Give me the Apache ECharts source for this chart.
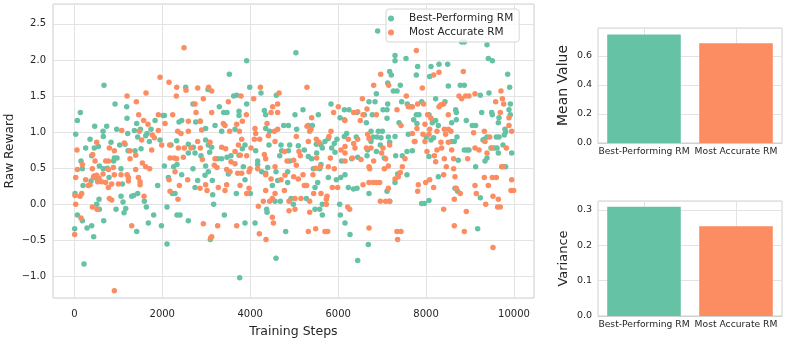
<!DOCTYPE html>
<html>
<head>
<meta charset="utf-8">
<script src="https://cdn.jsdelivr.net/npm/echarts@6/dist/echarts.min.js"></script>
<style>
  html, body { margin: 0; padding: 0; background: #fff; }
  #chart { width: 789px; height: 344px; }
</style>
</head>
<body>
<div id="chart"></div>
<script>
  // 散点数据 [step, reward]
  const bestRM = [
    [675,1.65],[137,1.27],[69,1.16],[31,0.97],[463,1.08],[736,1.08],[653,1.01],[660,0.94],[357,0.90],[834,0.86],[258,0.78],[455,0.78],[546,0.80],[395,0.67],[152,0.60],[183,0.49],[569,0.53],[660,0.49],[751,0.50],[895,0.60],[380,0.32],[198,0.26],[501,0.36],[789,0.37],[16,0.15],[562,0.07],[509,0.0],[569,-0.07],[69,-0.15],[183,-0.23],[289,-0.33],[395,-0.30],[8,-0.34],[440,-0.45],[668,-0.23],[220,-0.83],[910,0.64],
    [926,1.39],[1191,1.35],[1199,1.19],[964,1.04],[1214,0.98],[1366,1.02],[1419,1.12],[1502,1.04],[1654,0.98],[1745,1.04],[1836,1.16],[2018,1.23],[2048,1.23],[1032,0.82],[1153,0.83],[1381,0.74],[1517,0.77],[1441,0.93],[1623,0.95],[1707,0.87],[1949,0.89],[2199,0.82],[971,0.64],[1062,0.49],[1222,0.74],[1093,0.28],[2048,0.53],[2260,0.52],[1896,0.26],[2139,0.37],[1062,0.11],[1108,0.03],[1305,0.11],[1350,0.12],[1441,0.15],[949,-0.07],[1169,-0.06],[1131,-0.12],[1593,0.04],[1639,-0.04],[1805,-0.15],[1684,-0.26],[1980,-0.30],[1419,-0.38],[2108,-0.55],[2108,-0.04],[2230,0.15],
    [3526,1.80],[2533,1.62],[3040,1.59],[3624,1.50],[2699,1.39],[3298,1.35],[3397,1.27],[3472,1.27],[2442,1.16],[2381,1.14],[2760,1.14],[2859,1.15],[2987,1.05],[3200,1.09],[3351,1.01],[2328,0.88],[2593,0.83],[2707,0.79],[2987,0.89],[3048,0.82],[3124,0.79],[2593,0.71],[2745,0.71],[2881,0.67],[3078,0.72],[3260,0.63],[3351,0.63],[3563,0.67],[2335,0.55],[2442,0.41],[2699,0.49],[2987,0.53],[3048,0.45],[3503,0.42],[2972,0.40],[3139,0.33],[2745,0.23],[2805,0.33],[2290,0.15],[3147,0.13],[3169,0.0],[2335,-0.15],[2404,-0.15],[2593,-0.23],[3412,-0.15],[3093,-0.49],[3473,0.65],
    [5040,2.10],[3920,1.99],[3989,1.62],[3920,1.39],[3746,1.29],[3693,1.51],[4246,1.54],[4595,1.51],[4322,1.30],[4352,1.24],[3746,1.23],[4762,1.09],[4868,1.09],[4352,1.05],[4443,1.01],[3655,1.04],[3882,0.82],[3822,0.77],[3746,0.68],[4125,0.74],[4428,0.82],[4701,0.82],[4898,0.82],[4716,0.74],[4868,0.74],[4671,0.67],[4898,0.60],[4170,0.60],[4170,0.55],[4261,0.45],[4352,0.43],[4398,0.51],[4587,0.45],[4853,0.45],[3844,0.52],[3882,0.34],[4504,0.26],[4853,0.30],[4625,0.33],[4004,0.15],[3685,0.15],[4565,0.04],[4686,0.04],[4929,0.08],[4982,0.0],[4375,-0.07],[4383,-0.11],[3882,-0.26],[4110,-0.26],[4807,-0.38],[4587,-0.75],[3761,-1.02],
    [5838,1.39],[5201,1.31],[5019,1.24],[5550,1.24],[6042,1.20],[6141,1.31],[6247,1.31],[6141,1.17],[5322,1.09],[5413,1.09],[5057,1.04],[5777,0.91],[5701,0.87],[5974,0.90],[5913,0.84],[6141,0.94],[6194,0.98],[5504,0.83],[5610,0.82],[5641,0.78],[5231,0.75],[5322,0.66],[5398,0.63],[5512,0.71],[5853,0.78],[5929,0.72],[5095,0.81],[5436,0.49],[5610,0.55],[5580,0.49],[6080,0.60],[6308,0.63],[5777,0.37],[5959,0.34],[6058,0.37],[6156,0.41],[5474,0.23],[5535,0.30],[6232,0.23],[5277,0.08],[5641,0.0],[5474,-0.07],[5580,-0.07],[5641,-0.15],[6035,0.0],[6050,-0.15],[6156,-0.26],[6270,-0.42],[6350,0.21],
    [6899,2.40],[7294,2.06],[7544,2.02],[7294,1.99],[7172,1.84],[7210,1.79],[7127,1.68],[7415,1.65],[7256,1.57],[7339,1.57],[6869,1.53],[6702,1.42],[6839,1.42],[7445,1.42],[7574,1.39],[7127,1.39],[7021,1.31],[7112,1.31],[7657,1.35],[6429,1.27],[6596,1.24],[6778,1.24],[7112,1.19],[6642,1.13],[7385,1.13],[7718,1.17],[6414,0.93],[6748,1.01],[6915,1.01],[7006,1.01],[6793,0.93],[6884,0.93],[6975,0.92],[7142,0.93],[7294,0.94],[7597,0.97],[6748,0.87],[6960,0.82],[7172,0.86],[6672,0.75],[6869,0.73],[7688,0.74],[7566,0.73],[6445,0.65],[6657,0.67],[7051,0.64],[7309,0.67],[7460,0.67],[7354,0.42],[7566,0.41],[6429,0.22],[6702,0.15],[7112,0.18],[7294,0.30],[6687,-0.56],[6445,-0.78],[7172,0.04],
    [8809,2.25],[8870,2.25],[8294,1.94],[8491,1.94],[8112,1.91],[7809,1.91],[7778,1.79],[8082,1.77],[8506,1.64],[8779,1.65],[8870,1.65],[8218,1.46],[8430,1.42],[7900,1.42],[8673,1.31],[8688,1.27],[7778,1.24],[7839,1.24],[8066,1.24],[8218,1.16],[8142,1.13],[8582,1.13],[8688,1.17],[8915,1.16],[9052,1.09],[7793,1.12],[8279,1.09],[8006,0.93],[8112,0.89],[8172,0.92],[8703,0.93],[8582,0.87],[8642,0.87],[8930,0.75],[8870,0.75],[8976,0.75],[8066,0.66],[8733,0.61],[8279,0.38],[8658,0.22],[8718,0.18],[7900,0.01],[7960,0.01],[8066,0.05],
    [9386,2.21],[9416,2.02],[9507,1.99],[9856,1.80],[9901,1.62],[9234,1.51],[9431,1.54],[9265,1.27],[9492,1.27],[9507,1.24],[9659,1.20],[9916,1.39],[9886,1.31],[9644,1.13],[9916,1.24],[9128,1.09],[9795,1.04],[9810,1.00],[9780,0.96],[9598,0.93],[9659,0.93],[9325,0.90],[9386,0.93],[9295,0.89],[9477,0.78],[9553,0.78],[9613,0.78],[9644,0.71],[9750,0.82],[9947,0.71],[9386,0.64],[9340,0.60],[9128,0.52],[9810,0.52],[9234,0.09],[9174,-0.34]
  ];
  const accurateRM = [
    [61,0.75],[509,0.86],[797,0.78],[910,0.74],[418,0.69],[471,0.60],[713,0.60],[774,0.60],[69,0.48],[183,0.55],[410,0.49],[31,0.37],[258,0.34],[448,0.39],[509,0.40],[562,0.36],[653,0.42],[774,0.48],[888,0.51],[910,0.41],[357,0.27],[319,0.26],[433,0.37],[622,0.31],[713,0.30],[850,0.28],[16,0.12],[130,0.11],[167,0.15],[774,0.23],[850,0.06],[797,0.08],[31,0.0],[410,-0.04],[516,-0.07],[152,-0.19],[8,-0.42],[910,-1.20],[531,0.31],
    [1949,1.76],[2154,1.69],[1199,1.50],[1631,1.54],[1411,1.42],[1464,1.24],[1911,1.24],[2237,1.24],[1578,1.16],[1676,1.11],[1078,1.02],[1479,1.01],[1775,0.96],[1820,0.92],[1911,1.02],[2063,1.12],[1138,0.85],[1267,0.74],[1396,0.68],[1532,0.89],[1760,0.75],[1987,0.82],[2169,0.82],[2177,0.64],[2275,0.64],[1267,0.63],[1548,0.57],[1623,0.52],[1714,0.49],[1396,0.48],[1062,0.41],[1199,0.41],[1229,0.37],[1457,0.37],[1495,0.31],[1495,0.27],[1002,0.28],[1229,0.32],[2177,0.18],[1585,0.11],[1305,-0.30],[2154,0.34],
    [2495,2.17],[2328,1.62],[2540,1.58],[2805,1.61],[3056,1.62],[3124,1.57],[2934,1.46],[3503,1.42],[2745,1.39],[2768,1.27],[3124,1.27],[2593,1.15],[2866,1.15],[3389,1.12],[3427,1.09],[2351,1.01],[2426,0.98],[2593,1.01],[2896,1.03],[3533,1.01],[2805,0.87],[3086,0.86],[2366,0.78],[2502,0.78],[2654,0.78],[2866,0.78],[3351,0.79],[3442,0.77],[2480,0.65],[2328,0.63],[2912,0.62],[3200,0.63],[3563,0.59],[3184,0.54],[3245,0.51],[3465,0.48],[3541,0.45],[2290,0.45],[2389,0.26],[2578,0.34],[2859,0.22],[2987,0.27],[3018,0.19],[3275,0.23],[3427,0.19],[3465,0.27],[2358,0.07],[2934,-0.27],[3260,-0.30],[3124,-0.45],[3101,-0.47],[2320,1.50],
    [3791,1.50],[4231,1.62],[4080,1.46],[4656,1.54],[4625,1.39],[4474,1.27],[4625,1.27],[4511,1.35],[3913,1.24],[3822,1.15],[3693,1.11],[3754,1.01],[4110,1.05],[4125,0.98],[4095,0.90],[4216,0.90],[4383,1.12],[4549,1.01],[4625,1.04],[4565,0.87],[4413,0.95],[3807,0.90],[3731,0.82],[3655,0.73],[4019,0.78],[3776,0.68],[3920,0.67],[4322,0.69],[4352,0.63],[4777,0.73],[4838,0.60],[4989,0.61],[3655,0.56],[3996,0.49],[3973,0.45],[3716,0.43],[3807,0.43],[4170,0.49],[4565,0.52],[4701,0.34],[4792,0.40],[4352,0.41],[4474,0.35],[4989,0.38],[3769,0.26],[3973,0.22],[3920,0.15],[4352,0.19],[4777,0.19],[4565,0.15],[4504,0.08],[4299,0.04],[4443,0.04],[4883,0.04],[4186,-0.03],[5019,-0.07],[4504,-0.18],[4527,-0.26],[4883,-0.09],[3693,-0.30],[4208,-0.41],[4360,-0.49],
    [5292,1.62],[6004,1.35],[5898,1.27],[6156,1.16],[6353,1.27],[5398,1.20],[5292,1.08],[5353,1.01],[5383,1.04],[5838,1.01],[5049,0.94],[5322,0.87],[5504,0.90],[5565,0.86],[5792,0.94],[6156,0.80],[6232,0.90],[6353,0.84],[5110,0.73],[5140,0.67],[5512,0.64],[6065,0.75],[6156,0.71],[6323,0.64],[5822,0.64],[6156,0.60],[5049,0.54],[5489,0.50],[5595,0.52],[5777,0.52],[5913,0.49],[5201,0.41],[5095,0.35],[5231,0.26],[5284,0.26],[5428,0.41],[5868,0.23],[5989,0.23],[5019,0.08],[5155,0.08],[5353,0.04],[5353,-0.11],[5443,0.15],[5610,0.15],[5747,0.11],[5732,0.07],[5732,0.0],[6217,-0.04],[6262,-0.07],[5322,-0.38],[5489,-0.34],[5701,-0.38],[5762,-0.38],
    [6968,1.80],[7150,1.65],[6808,1.65],[6551,1.46],[7551,1.50],[6657,1.32],[7339,1.31],[7597,1.35],[7688,1.35],[6445,1.28],[6566,1.24],[6869,1.24],[6505,1.16],[7430,1.09],[6445,0.90],[6672,0.97],[6702,0.91],[6384,0.78],[6642,0.78],[6748,0.78],[7021,0.78],[6990,0.71],[7172,0.82],[7733,0.87],[7688,0.98],[6520,0.62],[6808,0.60],[7081,0.63],[7521,0.63],[6702,0.52],[6718,0.49],[7051,0.49],[7142,0.53],[7460,0.52],[7415,0.44],[7369,0.38],[7294,0.35],[6702,0.30],[6793,0.30],[6869,0.30],[6945,0.30],[6566,0.27],[7142,0.22],[6960,0.04],[7081,0.04],[7172,0.04],[6702,-0.33],[7339,-0.38],[7430,-0.38],[7354,-0.49],[7779,2.13],
    [8847,1.84],[8172,1.79],[8294,1.83],[7915,1.61],[8749,1.50],[8809,1.46],[8900,1.50],[8976,1.50],[7809,1.39],[7945,1.39],[8294,1.35],[8339,1.38],[8400,1.39],[8506,1.24],[7975,1.11],[8036,1.24],[8112,1.19],[7793,1.05],[8082,1.04],[8415,1.04],[8506,1.04],[7930,0.97],[8066,0.97],[8248,1.01],[8445,0.97],[8567,1.01],[9082,0.99],[7748,0.87],[7975,0.87],[8339,0.86],[8506,0.86],[8021,0.73],[8248,0.75],[8354,0.78],[8582,0.75],[8188,0.67],[8218,0.59],[8415,0.63],[8627,0.63],[8946,0.63],[9113,0.78],[8460,0.52],[8627,0.49],[8400,0.41],[8658,0.38],[7824,0.27],[8082,0.34],[7991,0.30],[8172,0.23],[7809,0.18],[8688,0.22],[9113,0.26],[8779,0.15],[8642,0.07],[8400,-0.07],[8915,-0.10],[8642,-0.30],[8870,-0.38],
    [9113,1.53],[9704,1.57],[9583,1.42],[9735,1.46],[9765,1.39],[9689,1.27],[9886,1.20],[9886,1.09],[9947,1.01],[9325,1.01],[9340,0.87],[9446,0.93],[9204,0.75],[9386,0.71],[9492,0.78],[9826,0.78],[9750,0.52],[9719,0.52],[9325,0.37],[9507,0.37],[9598,0.37],[9416,0.26],[9947,0.34],[9932,0.19],[9992,0.19],[9143,0.15],[9522,0.11],[9644,0.07],[9628,-0.04],[9689,-0.04],[9356,0.0],[9522,-0.60]
  ];

  // 右侧柱状图数据
  const models = ['Best-Performing RM', 'Most Accurate RM'];
  const meanValues = [0.749, 0.687];
  const varianceValues = [0.309, 0.254];

  const GREEN = '#66c2a5';
  const ORANGE = '#fc8d62';
  const TXT = '#262626';
  const GRID = '#e3e3e3';
  const FONT = 'DejaVu Sans';

  const myChart = echarts.init(document.getElementById('chart'));

  // 只显示 0.5 的整数倍
  const yFmt = function (v) {
    if (Math.abs(v * 2 - Math.round(v * 2)) > 1e-6) return '';
    return v.toFixed(1).replace('-', '\u2212');
  };
  const xFmt = function (v) {
    return v % 2000 === 0 ? String(v) : '';
  };

  const barXAxis = (gridIndex) => ({
    type: 'category',
    gridIndex: gridIndex,
    data: models,
    axisTick: { show: false },
    axisLine: { lineStyle: { color: '#d0d0d0' } },
    axisLabel: { color: TXT, fontSize: 9.2, fontFamily: FONT, margin: 4, interval: 0 },
    splitLine: { show: false },
  });

  const barYAxis = (gridIndex, max, interval, name, nameSize) => ({
    type: 'value',
    gridIndex: gridIndex,
    min: 0,
    max: max,
    interval: interval,
    name: name,
    nameLocation: 'middle',
    nameGap: 28,
    nameMoveOverlap: false,
    nameTextStyle: { color: TXT, fontSize: nameSize, fontFamily: FONT },
    axisLabel: {
      color: TXT, fontSize: 9.5, fontFamily: FONT, margin: 6, showMaxLabel: false,
      formatter: (v) => v.toFixed(1),
    },
    axisLine: { show: false },
    axisTick: { show: false },
    splitLine: { lineStyle: { color: GRID } },
  });

  // 柱子中心的竖向网格线（画在柱子下面）
  const centerLines = {
    silent: true,
    symbol: 'none',
    z: 1,
    label: { show: false },
    lineStyle: { color: GRID, type: 'solid', width: 1 },
    data: [{ xAxis: 0 }, { xAxis: 1 }],
  };

  const gridBase = { show: true, borderColor: '#d0d0d0', borderWidth: 1, containLabel: false, outerBoundsMode: 'none' };

  const option = {
    animation: false,
    backgroundColor: '#fff',
    textStyle: { fontFamily: FONT },
    grid: [
      Object.assign({ left: 53, top: 4, width: 481, height: 294 }, gridBase),
      Object.assign({ left: 598, top: 28, width: 184, height: 115 }, gridBase),
      Object.assign({ left: 598, top: 201, width: 184, height: 115 }, gridBase),
    ],
    legend: {
      data: ['Best-Performing RM', 'Most Accurate RM'],
      orient: 'vertical',
      left: 386,
      top: 9,
      padding: [4, 6, 4, 2],
      itemWidth: 26,
      itemHeight: 6,
      itemGap: 3,
      backgroundColor: 'rgba(255,255,255,0.8)',
      borderColor: '#d6d6d6',
      borderWidth: 1,
      borderRadius: 3,
      textStyle: { color: TXT, fontSize: 10.5, fontFamily: FONT },
    },
    xAxis: [
      {
        type: 'value',
        gridIndex: 0,
        min: -485,
        max: 10455,
        splitNumber: 5,
        name: 'Training Steps',
        nameLocation: 'middle',
        nameGap: 27,
        nameMoveOverlap: false,
        nameTextStyle: { color: TXT, fontSize: 12.5, fontFamily: FONT },
        axisLabel: { color: TXT, fontSize: 10, fontFamily: FONT, margin: 11, formatter: xFmt, showMinLabel: false, showMaxLabel: false },
        axisLine: { show: false },
        axisTick: { show: false },
        splitLine: { lineStyle: { color: GRID } },
      },
      barXAxis(1),
      barXAxis(2),
    ],
    yAxis: [
      {
        type: 'value',
        gridIndex: 0,
        min: -1.3,
        max: 2.775,
        splitNumber: 8,
        name: 'Raw Reward',
        nameLocation: 'middle',
        nameGap: 37,
        nameMoveOverlap: false,
        nameTextStyle: { color: TXT, fontSize: 12.2, fontFamily: FONT },
        axisLabel: { color: TXT, fontSize: 10, fontFamily: FONT, margin: 7, formatter: yFmt, showMinLabel: false, showMaxLabel: false },
        axisLine: { show: false },
        axisTick: { show: false },
        splitLine: { lineStyle: { color: GRID } },
      },
      barYAxis(1, 0.793, 0.2, 'Mean Value', 14),
      barYAxis(2, 0.3255, 0.1, 'Variance', 13),
    ],
    series: [
      {
        name: 'Best-Performing RM',
        type: 'scatter',
        xAxisIndex: 0,
        yAxisIndex: 0,
        symbolSize: 5.5,
        itemStyle: { color: GREEN, opacity: 1 },
        data: bestRM,
      },
      {
        name: 'Most Accurate RM',
        type: 'scatter',
        xAxisIndex: 0,
        yAxisIndex: 0,
        symbolSize: 5.5,
        itemStyle: { color: ORANGE, opacity: 1 },
        data: accurateRM,
      },
      {
        type: 'bar',
        xAxisIndex: 1,
        yAxisIndex: 1,
        barWidth: '80%',
        data: meanValues.map((v, i) => ({ value: v, itemStyle: { color: i === 0 ? GREEN : ORANGE } })),
        markLine: centerLines,
      },
      {
        type: 'bar',
        xAxisIndex: 2,
        yAxisIndex: 2,
        barWidth: '80%',
        data: varianceValues.map((v, i) => ({ value: v, itemStyle: { color: i === 0 ? GREEN : ORANGE } })),
        markLine: centerLines,
      },
    ],
  };

  myChart.setOption(option);
</script>
</body>
</html>
